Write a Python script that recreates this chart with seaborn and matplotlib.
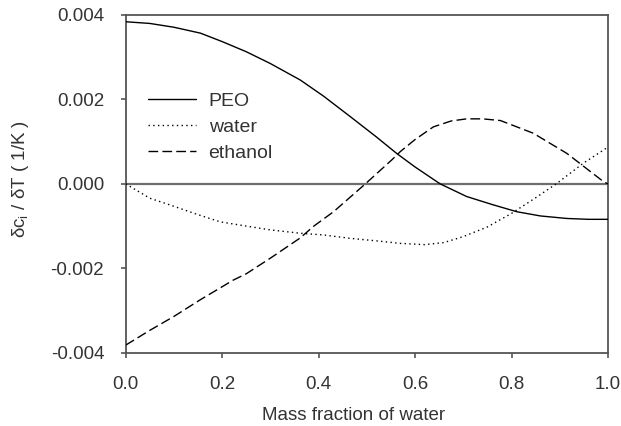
import matplotlib
matplotlib.use("Agg")
import matplotlib.pyplot as plt
import pandas as pd
import seaborn as sns

# Temperature sensitivity of each component vs. water mass fraction (values in 1e-3 / K)
peo_x = [0.0, 0.05, 0.10, 0.155, 0.20, 0.25, 0.30, 0.362, 0.41, 0.466, 0.52,
         0.562, 0.60, 0.652, 0.707, 0.76, 0.811, 0.86, 0.915, 0.96, 1.0]
peo_y = [3.84, 3.80, 3.71, 3.57, 3.37, 3.13, 2.85, 2.46, 2.08, 1.59, 1.11,
         0.72, 0.40, 0.0, -0.30, -0.49, -0.66, -0.76, -0.82, -0.84, -0.84]

water_x = [0.0, 0.05, 0.092, 0.15, 0.196, 0.25, 0.30, 0.362, 0.41, 0.465, 0.52,
           0.569, 0.62, 0.66, 0.70, 0.75, 0.80, 0.85, 0.894, 0.949, 1.0]
water_y = [0.0, -0.34, -0.50, -0.73, -0.90, -1.00, -1.09, -1.17, -1.21, -1.29, -1.35,
           -1.41, -1.44, -1.39, -1.25, -1.02, -0.70, -0.33, 0.01, 0.49, 0.87]

ethanol_x = [0.0, 0.05, 0.10, 0.154, 0.223, 0.25, 0.30, 0.362, 0.389, 0.431, 0.497,
             0.552, 0.569, 0.60, 0.638, 0.675, 0.707, 0.74, 0.777, 0.845, 0.915, 0.991, 1.0]
ethanol_y = [-3.82, -3.47, -3.14, -2.75, -2.28, -2.13, -1.76, -1.28, -1.01, -0.66, 0.0,
             0.57, 0.76, 1.05, 1.35, 1.49, 1.54, 1.54, 1.50, 1.20, 0.72, 0.05, 0.0]

series_names = ["PEO", "water", "ethanol"]
x_ticks = [0.0, 0.2, 0.4, 0.6, 0.8, 1.0]
y_ticks = [-0.004, -0.002, 0.0, 0.002, 0.004]

frames = []
for name, xs, ys in [("PEO", peo_x, peo_y), ("water", water_x, water_y),
                     ("ethanol", ethanol_x, ethanol_y)]:
    frames.append(pd.DataFrame({"x": xs, "y": [v * 1e-3 for v in ys], "series": name}))
df = pd.concat(frames, ignore_index=True)

sns.set_theme(style="ticks")
plt.rcParams["font.family"] = ["Liberation Sans", "DejaVu Sans"]
plt.rcParams["mathtext.fontset"] = "custom"
plt.rcParams["mathtext.rm"] = "Liberation Sans"
plt.rcParams["mathtext.it"] = "Liberation Sans"
plt.rcParams["mathtext.default"] = "regular"

text_color = "#333333"
spine_color = "#555555"
fs = 13.5

fig = plt.figure(figsize=(6.21, 4.26), dpi=100)
ax = fig.add_axes([0.2024, 0.172, 0.7766, 0.7928])

ax.axhline(0.0, color="#6e6e6e", lw=1.6, zorder=1)

sns.lineplot(data=df, x="x", y="y", hue="series", style="series",
             hue_order=series_names, style_order=series_names,
             palette={"PEO": "black", "water": "black", "ethanol": "black"},
             dashes={"PEO": "", "water": (1, 2.4), "ethanol": (7, 3)},
             linewidth=1.0, sort=False, estimator=None, legend=False, ax=ax, zorder=3)

ax.set_xlim(0.0, 1.0)
ax.set_ylim(-0.004, 0.004)
ax.set_xticks(x_ticks)
ax.set_xticklabels([f"{t:.1f}" for t in x_ticks])
ax.set_yticks(y_ticks)
ax.set_yticklabels([f"{t:.3f}" for t in y_ticks])

for s in ax.spines.values():
    s.set_visible(True)
    s.set_color(spine_color)
    s.set_linewidth(1.3)

ax.tick_params(axis="both", direction="out", length=3.5, width=1.2, color=spine_color,
               labelsize=fs, labelcolor=text_color)
ax.tick_params(axis="x", pad=13)
ax.tick_params(axis="y", pad=12)

ax.set_xlabel("Mass fraction of water", fontsize=fs, color=text_color)
ax.set_ylabel(r"$\delta$c$_{i}$ / $\delta$T ( 1/K )", fontsize=fs, color=text_color)
ax.xaxis.set_label_coords(0.472, -0.161)
ax.yaxis.set_label_coords(-0.197, 0.515)

handles = ax.get_lines()[1:4]
leg = ax.legend(handles, series_names, loc="upper left", bbox_to_anchor=(0.046, 0.771),
                frameon=False, fontsize=14, handlelength=2.5, handletextpad=0.62,
                labelspacing=0.43, borderpad=0, borderaxespad=0)
for t in leg.get_texts():
    t.set_color(text_color)

fig.savefig("out.png", dpi=100)
